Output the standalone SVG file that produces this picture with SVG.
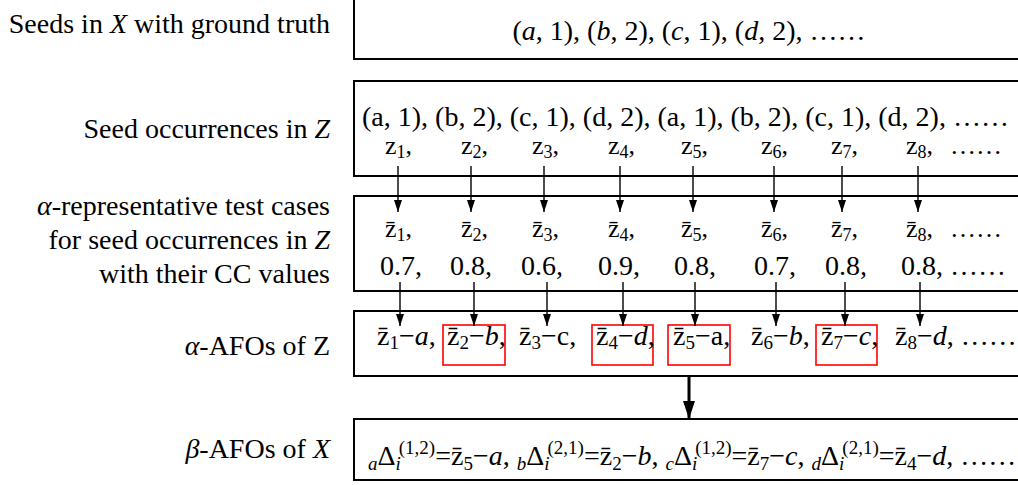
<svg xmlns="http://www.w3.org/2000/svg" width="1018" height="485" viewBox="0 0 1018 485" font-family="'Liberation Serif', 'Times New Roman', 'DejaVu Serif', serif">
<style>
text{font-family:'Liberation Serif','Times New Roman','DejaVu Serif',serif;font-size:28px;fill:#000}
.zr{font-size:26px}
.s{font-size:19px}
.s2{font-size:18px}
.i{font-style:italic}
.lbl{text-anchor:end}
.box{fill:none;stroke:#000;stroke-width:2}
.hl{fill:none;stroke:#f00;stroke-width:1.6}
.a1{stroke:#000;stroke-width:1.4;fill:none;marker-end:url(#h1)}
.a2{stroke:#000;stroke-width:3;fill:none;marker-end:url(#h2)}
</style>
<defs>
<marker id="h1" markerUnits="userSpaceOnUse" markerWidth="12" markerHeight="8" refX="12" refY="4" orient="auto"><path d="M0,0L12,4L0,8z" fill="#000"/></marker>
<marker id="h2" markerUnits="userSpaceOnUse" markerWidth="18" markerHeight="12" refX="18" refY="6" orient="auto"><path d="M0,0L18,6L0,12z" fill="#000"/></marker>
</defs>
<rect width="1018" height="485" fill="#fff"/>

<g id="labels">
<g id="label-seeds-x"><text class="lbl" x="330" y="33">Seeds in <tspan class="i">X</tspan> with ground truth</text></g>
<g id="label-occ-z"><text class="lbl" x="330" y="138">Seed occurrences in <tspan class="i">Z</tspan></text></g>
<g id="label-rep">
<text class="lbl" x="330" y="215"><tspan class="i">α</tspan>-representative test cases</text>
<text class="lbl" x="330" y="249">for seed occurrences in <tspan class="i">Z</tspan></text>
<text class="lbl" x="330" y="283">with their CC values</text>
</g>
<g id="label-afo-z"><text class="lbl" x="330" y="355"><tspan class="i">α</tspan>-AFOs of Z</text></g>
<g id="label-afo-x"><text class="lbl" x="330" y="458"><tspan class="i">β</tspan>-AFOs of <tspan class="i">X</tspan></text></g>
</g>

<g id="box-seeds-x">
<rect class="box" x="354" y="-4" width="700" height="63"/>
<text x="689" y="40" text-anchor="middle">(<tspan class="i">a</tspan>, 1), (<tspan class="i">b</tspan>, 2), (<tspan class="i">c</tspan>, 1), (<tspan class="i">d</tspan>, 2), ……</text>
</g>

<g id="box-occ-z">
<rect class="box" x="354" y="81" width="700" height="95"/>
<text x="362" y="126">(a, 1), (b, 2), (c, 1), (d, 2), (a, 1), (b, 2), (c, 1), (d, 2), ……</text>
<text class="zr" x="385" y="154">z<tspan class="s2" dy="4">1</tspan><tspan dy="-4">,</tspan></text>
<text class="zr" x="461" y="154">z<tspan class="s2" dy="4">2</tspan><tspan dy="-4">,</tspan></text>
<text class="zr" x="532" y="154">z<tspan class="s2" dy="4">3</tspan><tspan dy="-4">,</tspan></text>
<text class="zr" x="608" y="154">z<tspan class="s2" dy="4">4</tspan><tspan dy="-4">,</tspan></text>
<text class="zr" x="681" y="154">z<tspan class="s2" dy="4">5</tspan><tspan dy="-4">,</tspan></text>
<text class="zr" x="761" y="154">z<tspan class="s2" dy="4">6</tspan><tspan dy="-4">,</tspan></text>
<text class="zr" x="831" y="154">z<tspan class="s2" dy="4">7</tspan><tspan dy="-4">,</tspan></text>
<text class="zr" x="906" y="154">z<tspan class="s2" dy="4">8</tspan><tspan dy="-4">,</tspan></text>
<text class="zr" x="950" y="154">……</text>
</g>

<g id="box-rep">
<rect class="box" x="354" y="196" width="700" height="95"/>
<text class="zr" x="385" y="237">z̄<tspan class="s2" dy="4">1</tspan><tspan dy="-4">,</tspan></text>
<text class="zr" x="461" y="237">z̄<tspan class="s2" dy="4">2</tspan><tspan dy="-4">,</tspan></text>
<text class="zr" x="532" y="237">z̄<tspan class="s2" dy="4">3</tspan><tspan dy="-4">,</tspan></text>
<text class="zr" x="608" y="237">z̄<tspan class="s2" dy="4">4</tspan><tspan dy="-4">,</tspan></text>
<text class="zr" x="681" y="237">z̄<tspan class="s2" dy="4">5</tspan><tspan dy="-4">,</tspan></text>
<text class="zr" x="761" y="237">z̄<tspan class="s2" dy="4">6</tspan><tspan dy="-4">,</tspan></text>
<text class="zr" x="831" y="237">z̄<tspan class="s2" dy="4">7</tspan><tspan dy="-4">,</tspan></text>
<text class="zr" x="906" y="237">z̄<tspan class="s2" dy="4">8</tspan><tspan dy="-4">,</tspan></text>
<text class="zr" x="950" y="237">……</text>
<text x="380" y="275">0.7,</text>
<text x="450" y="275">0.8,</text>
<text x="521" y="275">0.6,</text>
<text x="598" y="275">0.9,</text>
<text x="674" y="275">0.8,</text>
<text x="754" y="275">0.7,</text>
<text x="825" y="275">0.8,</text>
<text x="901" y="275">0.8, ……</text>
</g>

<g id="box-afo-z">
<rect class="box" x="354" y="311" width="700" height="65"/>
<rect class="hl" x="443" y="325" width="62" height="40"/>
<rect class="hl" x="592" y="325" width="61" height="40"/>
<rect class="hl" x="668" y="325" width="62" height="40"/>
<rect class="hl" x="816" y="325" width="61" height="40"/>
<text x="377" y="345">z̄<tspan class="s" dy="4">1</tspan><tspan dy="-4">−</tspan><tspan class="i">a</tspan>,</text>
<text x="447" y="345">z̄<tspan class="s" dy="4">2</tspan><tspan dy="-4">−</tspan><tspan class="i">b</tspan>,</text>
<text x="519" y="345">z̄<tspan class="s" dy="4">3</tspan><tspan dy="-4">−c,</tspan></text>
<text x="596" y="345">z̄<tspan class="s" dy="4">4</tspan><tspan dy="-4">−</tspan><tspan class="i">d</tspan>,</text>
<text x="673" y="345">z̄<tspan class="s" dy="4">5</tspan><tspan dy="-4">−a,</tspan></text>
<text x="751" y="345">z̄<tspan class="s" dy="4">6</tspan><tspan dy="-4">−</tspan><tspan class="i">b</tspan>,</text>
<text x="821" y="345">z̄<tspan class="s" dy="4">7</tspan><tspan dy="-4">−</tspan><tspan class="i">c</tspan>,</text>
<text x="895" y="345">z̄<tspan class="s" dy="4">8</tspan><tspan dy="-4">−</tspan><tspan class="i">d</tspan>, ……</text>
</g>

<g id="box-afo-x">
<rect class="box" x="354" y="419" width="700" height="61"/>
<text x="368" y="465"><tspan class="s i" dy="5">a</tspan><tspan dy="-5">Δ</tspan><tspan class="s i" dy="5">i</tspan><tspan class="s" dx="-2" dy="-16">(1,2)</tspan><tspan dy="11">=z̄</tspan><tspan class="s" dy="5">5</tspan><tspan dy="-5">−</tspan><tspan class="i">a</tspan><tspan>, </tspan><tspan class="s i" dy="5">b</tspan><tspan dy="-5">Δ</tspan><tspan class="s i" dy="5">i</tspan><tspan class="s" dx="-2" dy="-16">(2,1)</tspan><tspan dy="11">=z̄</tspan><tspan class="s" dy="5">2</tspan><tspan dy="-5">−</tspan><tspan class="i">b</tspan><tspan>, </tspan><tspan class="s i" dy="5">c</tspan><tspan dy="-5">Δ</tspan><tspan class="s i" dy="5">i</tspan><tspan class="s" dx="-2" dy="-16">(1,2)</tspan><tspan dy="11">=z̄</tspan><tspan class="s" dy="5">7</tspan><tspan dy="-5">−</tspan><tspan class="i">c</tspan><tspan>, </tspan><tspan class="s i" dy="5">d</tspan><tspan dy="-5">Δ</tspan><tspan class="s i" dy="5">i</tspan><tspan class="s" dx="-2" dy="-16">(2,1)</tspan><tspan dy="11">=z̄</tspan><tspan class="s" dy="5">4</tspan><tspan dy="-5">−</tspan><tspan class="i">d</tspan><tspan>, ……</tspan></text>
</g>

<g id="connectors">
<line class="a1" x1="398" y1="166" x2="398" y2="212"/>
<line class="a1" x1="471" y1="166" x2="471" y2="212"/>
<line class="a1" x1="544" y1="166" x2="544" y2="212"/>
<line class="a1" x1="620" y1="166" x2="620" y2="212"/>
<line class="a1" x1="693" y1="166" x2="693" y2="212"/>
<line class="a1" x1="774" y1="166" x2="774" y2="212"/>
<line class="a1" x1="842" y1="166" x2="842" y2="212"/>
<line class="a1" x1="918" y1="166" x2="918" y2="212"/>
<line class="a1" x1="400" y1="282" x2="400" y2="326"/>
<line class="a1" x1="474" y1="282" x2="474" y2="326"/>
<line class="a1" x1="547" y1="282" x2="547" y2="326"/>
<line class="a1" x1="623" y1="282" x2="623" y2="326"/>
<line class="a1" x1="695" y1="282" x2="695" y2="326"/>
<line class="a1" x1="776" y1="282" x2="776" y2="326"/>
<line class="a1" x1="845" y1="282" x2="845" y2="326"/>
<line class="a1" x1="920" y1="282" x2="920" y2="326"/>
<line class="a2" x1="689" y1="376" x2="689" y2="419"/>
</g>
</svg>
